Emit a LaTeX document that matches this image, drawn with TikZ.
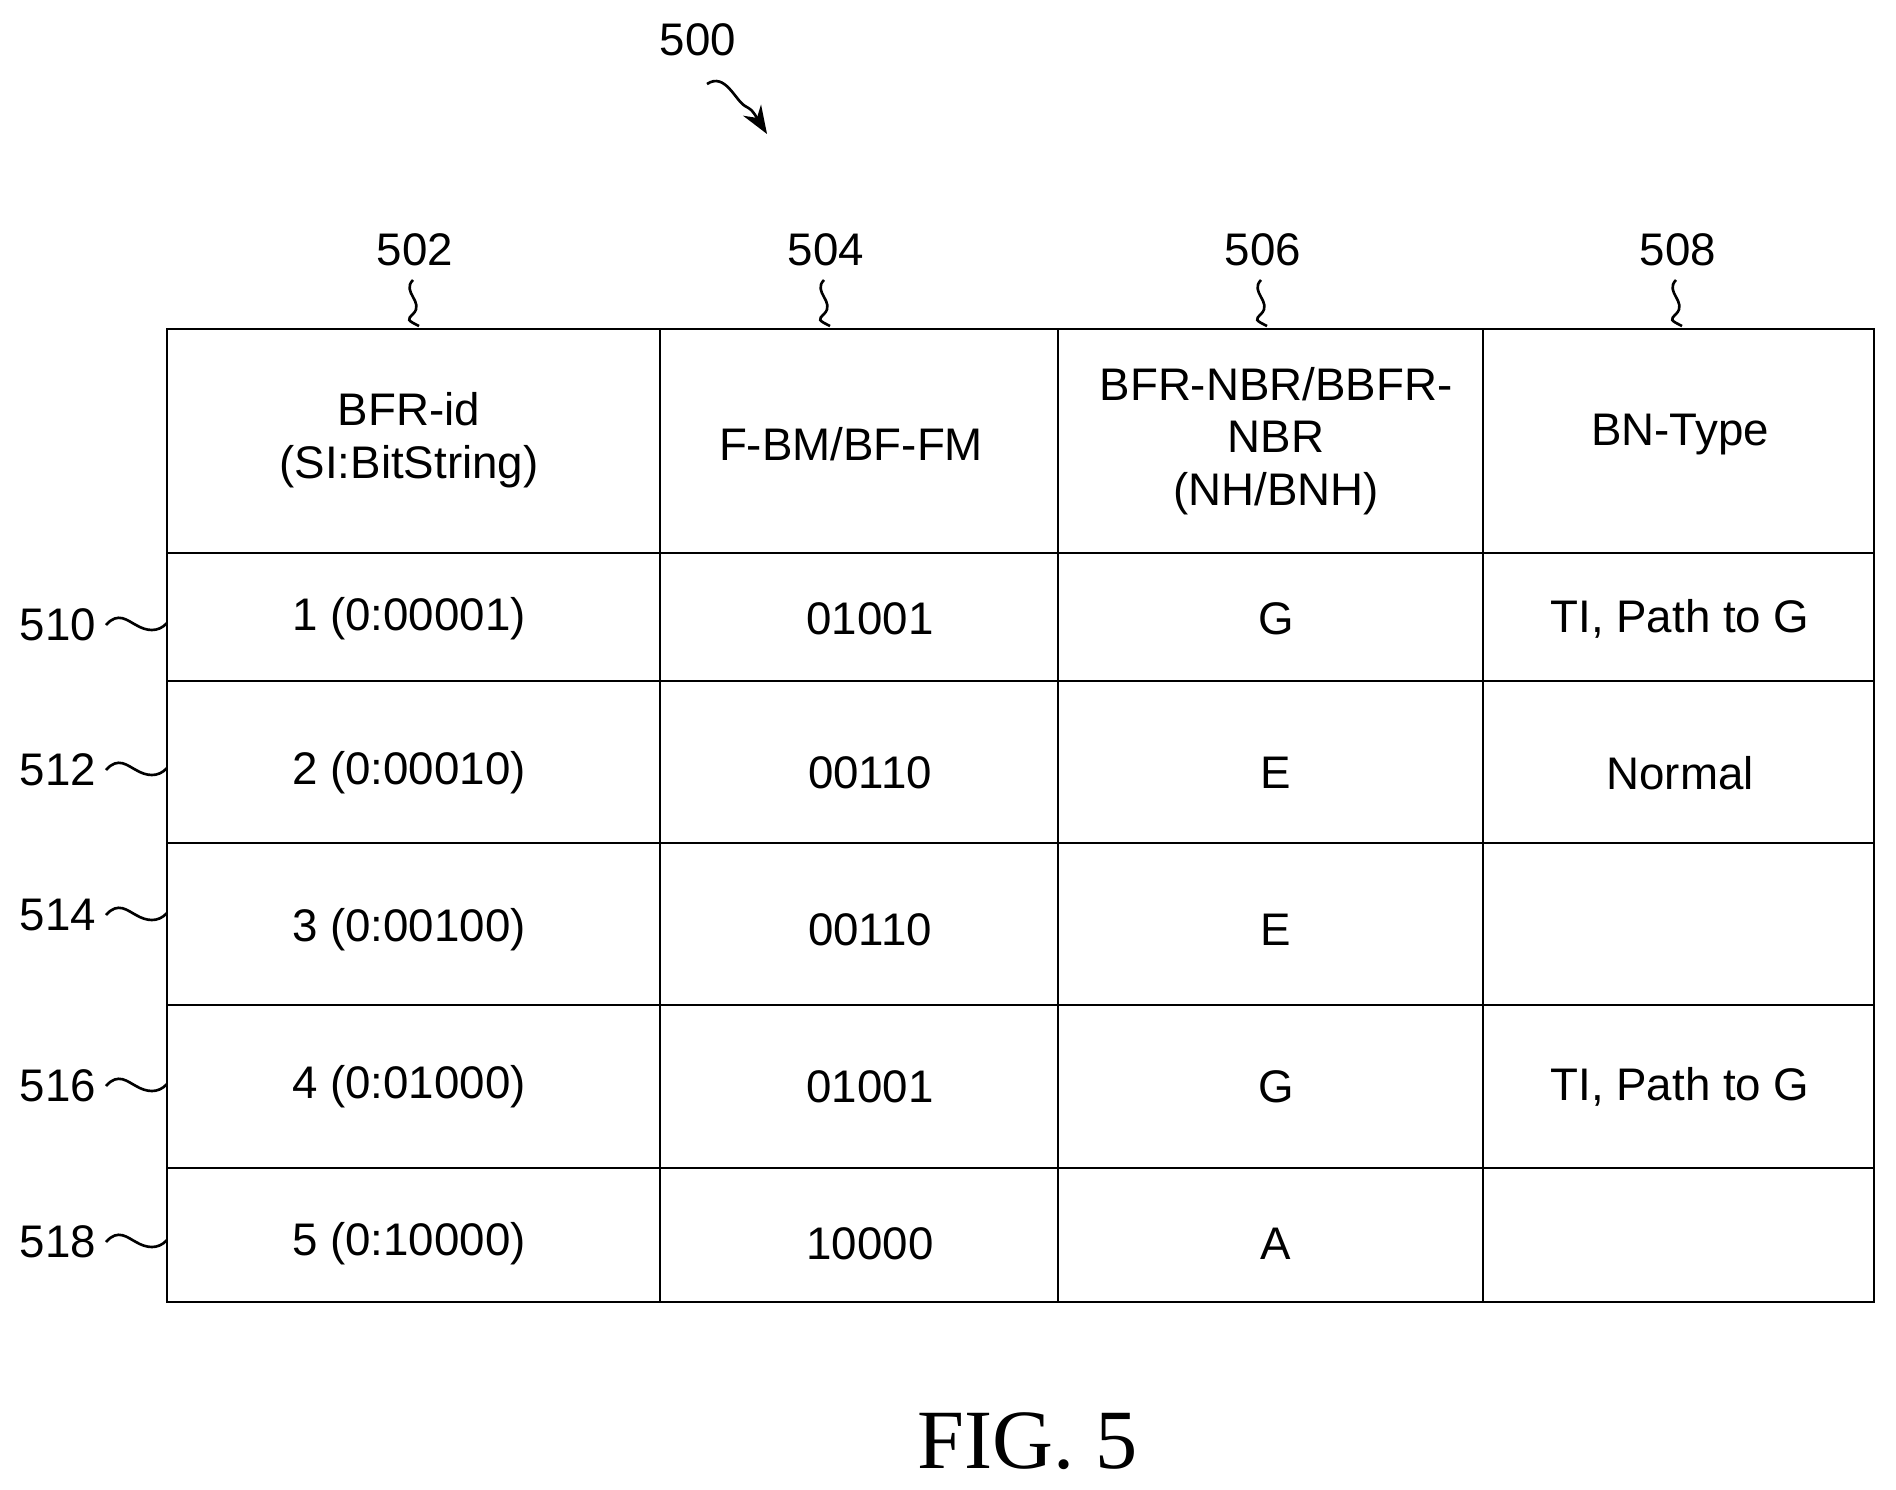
\documentclass[tikz,border=0pt]{standalone}
\usepackage{fontspec}
\setmainfont{Liberation Sans}
\newfontfamily\figfont{Liberation Serif}
\usetikzlibrary{arrows.meta}
\begin{document}
\begin{tikzpicture}[x=0.02cm,y=-0.02cm,
  grid/.style={line width=1.6pt},
  cell/.style={font=\fontsize{26}{30}\selectfont,align=center},
  lbl/.style={font=\fontsize{26}{30}\selectfont},
  sq/.style={line width=1.5pt}]
\useasboundingbox (0,0) rectangle (1896,1490);
% table
\draw[grid] (167,329) rectangle (1874,1302);
\foreach \x in {660,1058,1483} \draw[grid] (\x,329) -- (\x,1302);
\foreach \y in {553,681,843,1005,1168} \draw[grid] (167,\y) -- (1874,\y);
% header
\node[cell] (h1) at (409,440) {BFR-id\\(SI:BitString)};
\node[cell] (h2) at (851,444) {F-BM/BF-FM};
\node[cell] (h3) at (1276,441) {BFR-NBR/BBFR-\\NBR\\(NH/BNH)};
\node[cell] (h4) at (1680,435) {BN-Type};
% rows
\foreach \y/\a/\b/\c/\d in {619/1 (0:00001)/01001/G/{TI, Path to G},
  773/2 (0:00010)/00110/E/Normal,
  930/3 (0:00100)/00110/E/,
  1087/4 (0:01000)/01001/G/{TI, Path to G},
  1244/5 (0:10000)/10000/A/}{
  \node[cell] at (409,\y) {\a};
  \node[cell] at (870,\y) {\b};
  \node[cell] at (1276,\y) {\c};
  \node[cell] at (1680,\y) {\d};
}
% column labels
\foreach \x/\t in {415/502,826/504,1263/506,1678/508}{
  \node[lbl] (c\t) at (\x,250) {\t};
  \draw[sq] (\x-2,280) .. controls (\x-14,292) and (\x+10,302) .. (\x-2,314)
     .. controls (\x-8,320) .. (\x+4,326);
}
% row labels
\foreach \y/\t in {625/510,770/512,915/514,1086/516,1242/518}{
  \node[lbl] (r\t) at (58,\y) {\t};
  \draw[sq] (106,\y) .. controls (118,\y-14) and (128,\y-4) .. (136,\y)
     .. controls (146,\y+6) and (158,\y+8) .. (167,\y-2);
}
% 500
\node[lbl] (n500) at (698,40) {500};
\coordinate (a0) at (707,84);
\coordinate (a1) at (767,134);
\draw[sq,-{Stealth[length=16pt,width=12pt]}] (a0) .. controls (725,72) and (735,100) .. (745,106) .. controls (752,110) .. (a1);
\node[font=\figfont\fontsize{48}{52}\selectfont] (fig) at (1028,1441) {FIG. 5};
\end{tikzpicture}
\end{document}
